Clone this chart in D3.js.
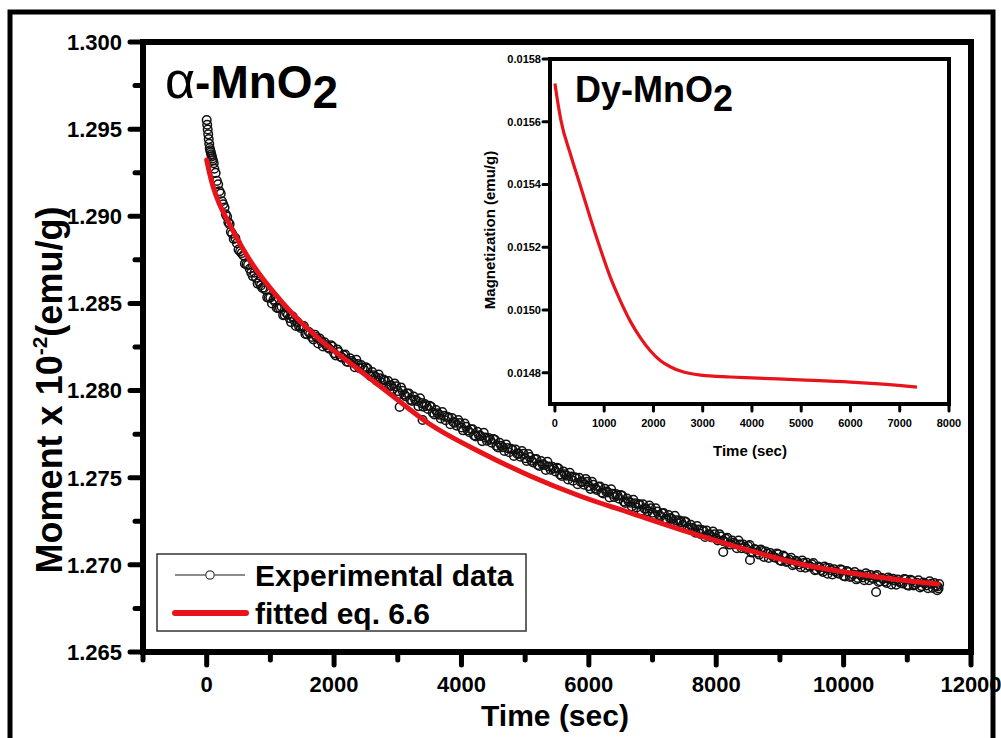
<!DOCTYPE html>
<html>
<head>
<meta charset="utf-8">
<script src="https://cdn.jsdelivr.net/npm/d3@7"></script>
<style>
  html, body { margin: 0; padding: 0; background: #fff; }
  svg text { font-family: "Liberation Sans", Arial, Helvetica, sans-serif; font-weight: bold; fill: #000; }
</style>
</head>
<body>
<svg id="chart" width="1001" height="738"></svg>
<script>
// Magnetic relaxation of alpha-MnO2: measured moment (x 10^-2 emu/g) vs time (s)
const expTime = [
  0, 8, 16, 24, 32, 40, 48, 56, 64, 72, 80, 88, 96,
  110, 120, 140, 160, 180, 200, 220, 240, 260, 280, 300, 320, 340, 360, 380, 400,
  450, 500, 550, 600, 650, 700, 750, 800, 850, 900, 950, 1000,
  1050, 1100, 1150, 1200, 1250, 1300, 1350, 1400, 1450, 1500, 1550, 1600, 1650, 1700, 1750, 1800, 1850, 1900, 1950, 2000,
  2050, 2100, 2150, 2200, 2250, 2300, 2350, 2400, 2450, 2500, 2550, 2600, 2650, 2700, 2750, 2800, 2850, 2900, 2950, 3000, 3030,
  3050, 3100, 3150, 3200, 3250, 3300, 3350, 3390, 3400, 3450, 3500, 3550, 3600, 3650, 3700, 3750, 3800, 3850, 3900, 3950, 4000,
  4050, 4100, 4150, 4200, 4250, 4300, 4350, 4400, 4450, 4500, 4550, 4600, 4650, 4700, 4750, 4800, 4850, 4900, 4950, 5000,
  5050, 5100, 5150, 5200, 5250, 5300, 5350, 5400, 5450, 5500, 5550, 5600, 5650, 5700, 5750, 5800, 5850, 5900, 5950, 6000,
  6050, 6100, 6150, 6200, 6250, 6300, 6350, 6400, 6450, 6500, 6550, 6600, 6650, 6700, 6750, 6800, 6850, 6900, 6950, 7000,
  7050, 7100, 7150, 7200, 7250, 7300, 7350, 7400, 7450, 7500, 7550, 7600, 7650, 7700, 7750, 7800, 7850, 7900, 7950, 8000,
  8050, 8100, 8110, 8150, 8200, 8250, 8300, 8350, 8400, 8450, 8500, 8530, 8550, 8600, 8650, 8700, 8750, 8800, 8850, 8900, 8950, 9000,
  9050, 9100, 9150, 9200, 9250, 9300, 9350, 9400, 9450, 9500, 9550, 9600, 9650, 9700, 9750, 9800, 9850, 9900, 9950, 10000,
  10050, 10100, 10150, 10200, 10250, 10300, 10350, 10400, 10450, 10500, 10510, 10550, 10600, 10650, 10700, 10750, 10800, 10850, 10900, 10950, 11000,
  11050, 11100, 11150, 11200, 11250, 11300, 11350, 11400, 11450, 11470, 11490, 11500,
  425, 475, 525, 575, 625, 675, 725, 775, 825, 875, 925, 975,
  1025, 1075, 1125, 1175, 1225, 1275, 1325, 1375, 1425, 1475, 1525, 1575, 1625, 1675, 1725, 1775, 1825, 1875, 1925, 1975,
  2025, 2075, 2125, 2175, 2225, 2275, 2325, 2375, 2425, 2475, 2525, 2575, 2625, 2675, 2725, 2775, 2825, 2875, 2925, 2975,
  3025, 3075, 3125, 3175, 3225, 3275, 3325, 3375, 3425, 3475, 3525, 3575, 3625, 3675, 3725, 3775, 3825, 3875, 3925, 3975,
  4025, 4075, 4125, 4175, 4225, 4275, 4325, 4375, 4425, 4475, 4525, 4575, 4625, 4675, 4725, 4775, 4825, 4875, 4925, 4975,
  5025, 5075, 5125, 5175, 5225, 5275, 5325, 5375, 5425, 5475, 5525, 5575, 5625, 5675, 5725, 5775, 5825, 5875, 5925, 5975,
  6025, 6075, 6125, 6175, 6225, 6275, 6325, 6375, 6425, 6475, 6525, 6575, 6625, 6675, 6725, 6775, 6825, 6875, 6925, 6975,
  7025, 7075, 7125, 7175, 7225, 7275, 7325, 7375, 7425, 7475, 7525, 7575, 7625, 7675, 7725, 7775, 7825, 7875, 7925, 7975,
  8025, 8075, 8125, 8175, 8225, 8275, 8325, 8375, 8425, 8475, 8525, 8575, 8625, 8675, 8725, 8775, 8825, 8875, 8925, 8975,
  9025, 9075, 9125, 9175, 9225, 9275, 9325, 9375, 9425, 9475, 9525, 9575, 9625, 9675, 9725, 9775, 9825, 9875, 9925, 9975,
  10025, 10075, 10125, 10175, 10225, 10275, 10325, 10375, 10425, 10475, 10525, 10575, 10625, 10675, 10725, 10775, 10825, 10875, 10925, 10975,
  11025, 11075, 11125, 11175, 11225, 11275, 11325, 11375, 11425, 11475
];
const expMoment = [
  1.29552, 1.29525, 1.29498, 1.29470, 1.29443, 1.29416, 1.29391, 1.29379, 1.29367, 1.29356, 1.29344, 1.29332, 1.29321,
  1.29305, 1.29273, 1.29249, 1.29203, 1.29184, 1.29144, 1.29130, 1.29086, 1.29069, 1.29050, 1.29011, 1.28999, 1.28966, 1.28955, 1.28911, 1.28900,
  1.28875, 1.28809, 1.28789, 1.28728, 1.28721, 1.28676, 1.28676, 1.28614, 1.28603, 1.28590, 1.28535, 1.28534,
  1.28522, 1.28475, 1.28475, 1.28433, 1.28447, 1.28416, 1.28425, 1.28371, 1.28369, 1.28367, 1.28325, 1.28337, 1.28308, 1.28320, 1.28270, 1.28282, 1.28277, 1.28248, 1.28260, 1.28215,
  1.28236, 1.28195, 1.28202, 1.28166, 1.28185, 1.28160, 1.28176, 1.28128, 1.28132, 1.28133, 1.28092, 1.28106, 1.28079, 1.28092, 1.28044, 1.28058, 1.28055, 1.28027, 1.28041, 1.27997, 1.27906,
  1.28018, 1.27977, 1.27983, 1.27947, 1.27966, 1.27941, 1.27956, 1.27831, 1.27908, 1.27912, 1.27913, 1.27873, 1.27888, 1.27862, 1.27877, 1.27830, 1.27845, 1.27843, 1.27816, 1.27831, 1.27788,
  1.27811, 1.27771, 1.27778, 1.27743, 1.27763, 1.27739, 1.27757, 1.27712, 1.27718, 1.27722, 1.27683, 1.27700, 1.27675, 1.27691, 1.27646, 1.27662, 1.27662, 1.27637, 1.27653, 1.27612,
  1.27636, 1.27597, 1.27606, 1.27573, 1.27595, 1.27573, 1.27591, 1.27546, 1.27553, 1.27557, 1.27519, 1.27536, 1.27512, 1.27528, 1.27483, 1.27500, 1.27500, 1.27475, 1.27493, 1.27452,
  1.27476, 1.27439, 1.27448, 1.27415, 1.27437, 1.27416, 1.27434, 1.27389, 1.27397, 1.27401, 1.27363, 1.27381, 1.27357, 1.27373, 1.27329, 1.27346, 1.27347, 1.27322, 1.27340, 1.27299,
  1.27324, 1.27286, 1.27296, 1.27263, 1.27286, 1.27264, 1.27282, 1.27238, 1.27245, 1.27250, 1.27212, 1.27230, 1.27206, 1.27223, 1.27178, 1.27196, 1.27197, 1.27173, 1.27191, 1.27151,
  1.27176, 1.27139, 1.27074, 1.27149, 1.27117, 1.27140, 1.27120, 1.27139, 1.27095, 1.27103, 1.27108, 1.27028, 1.27071, 1.27091, 1.27070, 1.27088, 1.27046, 1.27065, 1.27068, 1.27045, 1.27065, 1.27026,
  1.27053, 1.27017, 1.27029, 1.26998, 1.27023, 1.27003, 1.27025, 1.26984, 1.26995, 1.27003, 1.26969, 1.26990, 1.26970, 1.26990, 1.26949, 1.26970, 1.26974, 1.26953, 1.26974, 1.26937,
  1.26965, 1.26931, 1.26945, 1.26917, 1.26945, 1.26928, 1.26952, 1.26912, 1.26925, 1.26934, 1.26844, 1.26902, 1.26924, 1.26905, 1.26927, 1.26887, 1.26910, 1.26915, 1.26896, 1.26919, 1.26884,
  1.26914, 1.26882, 1.26897, 1.26870, 1.26898, 1.26882, 1.26906, 1.26867, 1.26880, 1.26855, 1.26865, 1.26890,
  1.28870, 1.28846, 1.28799, 1.28776, 1.28724, 1.28699, 1.28657, 1.28647, 1.28624, 1.28589, 1.28577, 1.28533,
  1.28500, 1.28510, 1.28472, 1.28482, 1.28434, 1.28435, 1.28393, 1.28404, 1.28393, 1.28359, 1.28370, 1.28324, 1.28328, 1.28294, 1.28307, 1.28298, 1.28253, 1.28261, 1.28240, 1.28252,
  1.28202, 1.28221, 1.28189, 1.28206, 1.28164, 1.28170, 1.28134, 1.28152, 1.28147, 1.28118, 1.28127, 1.28082, 1.28088, 1.28056, 1.28070, 1.28063, 1.28020, 1.28030, 1.28010, 1.28024,
  1.27980, 1.27999, 1.27967, 1.27983, 1.27941, 1.27947, 1.27911, 1.27928, 1.27923, 1.27894, 1.27907, 1.27863, 1.27870, 1.27840, 1.27855, 1.27849, 1.27807, 1.27818, 1.27799, 1.27814,
  1.27772, 1.27792, 1.27761, 1.27778, 1.27737, 1.27744, 1.27710, 1.27730, 1.27728, 1.27701, 1.27717, 1.27674, 1.27683, 1.27653, 1.27670, 1.27666, 1.27625, 1.27638, 1.27621, 1.27637,
  1.27596, 1.27618, 1.27588, 1.27607, 1.27568, 1.27577, 1.27544, 1.27564, 1.27562, 1.27536, 1.27552, 1.27510, 1.27519, 1.27490, 1.27507, 1.27503, 1.27463, 1.27476, 1.27460, 1.27477,
  1.27436, 1.27459, 1.27430, 1.27449, 1.27410, 1.27420, 1.27387, 1.27407, 1.27406, 1.27380, 1.27396, 1.27355, 1.27364, 1.27335, 1.27353, 1.27349, 1.27310, 1.27323, 1.27307, 1.27324,
  1.27284, 1.27306, 1.27278, 1.27297, 1.27259, 1.27268, 1.27235, 1.27256, 1.27254, 1.27229, 1.27245, 1.27204, 1.27213, 1.27185, 1.27202, 1.27199, 1.27160, 1.27174, 1.27158, 1.27176,
  1.27140, 1.27163, 1.27135, 1.27155, 1.27117, 1.27127, 1.27096, 1.27117, 1.27116, 1.27091, 1.27114, 1.27074, 1.27086, 1.27059, 1.27079, 1.27077, 1.27040, 1.27055, 1.27041, 1.27060,
  1.27022, 1.27046, 1.27020, 1.27041, 1.27005, 1.27016, 1.26986, 1.27010, 1.27012, 1.26990, 1.27010, 1.26972, 1.26985, 1.26960, 1.26981, 1.26981, 1.26945, 1.26962, 1.26949, 1.26970,
  1.26933, 1.26959, 1.26935, 1.26959, 1.26925, 1.26940, 1.26912, 1.26938, 1.26941, 1.26921, 1.26942, 1.26906, 1.26920, 1.26896, 1.26919, 1.26920, 1.26886, 1.26904, 1.26893, 1.26916,
  1.26881, 1.26909, 1.26886, 1.26911, 1.26878, 1.26893, 1.26866, 1.26892, 1.26896, 1.26876
];

// Fitted curve (eq. 6.6)
const fitTime = [0, 50, 100, 200, 300, 700, 1200, 1730, 2250, 2880, 3500, 4300, 5080, 5860, 6650, 7750, 8540, 9320, 10110, 10890, 11480];
const fitMoment = [1.29323, 1.29240, 1.29170, 1.29070, 1.28995, 1.28735, 1.28500, 1.28307, 1.28158, 1.27980, 1.27808, 1.27646, 1.27510, 1.27395, 1.27298, 1.27166, 1.27080, 1.27005, 1.26953, 1.26913, 1.26890];

// Inset: Dy-MnO2 magnetization (emu/g) vs time (s)
const insetTime = [0, 30, 120, 320, 530, 730, 930, 1130, 1340, 1540, 1740, 1940, 2150, 2350, 2550, 2960, 3560, 4000, 4980, 6000, 6500, 7350];
const insetMagnetization = [0.015722, 0.015690, 0.015606, 0.015494, 0.015389, 0.015287, 0.015191, 0.015102, 0.015025, 0.014961, 0.014910, 0.014869, 0.014837, 0.014818, 0.014805, 0.014792, 0.014786, 0.014783, 0.014777, 0.014770, 0.014765, 0.014754];

// Tick values
const mainXMajor = [0, 2000, 4000, 6000, 8000, 10000, 12000];
const mainXMinor = [-1000, 1000, 3000, 5000, 7000, 9000, 11000];
const mainYMajor = [1.265, 1.270, 1.275, 1.280, 1.285, 1.290, 1.295, 1.300];
const mainYMinor = [1.2675, 1.2725, 1.2775, 1.2825, 1.2875, 1.2925, 1.2975];
const insetXTicks = [0, 1000, 2000, 3000, 4000, 5000, 6000, 7000, 8000];
const insetYTicks = [0.0148, 0.0150, 0.0152, 0.0154, 0.0156, 0.0158];

const legendLabels = ["Experimental data", "fitted eq. 6.6"];

const RED = "#e8141b";

const svg = d3.select("#chart");
svg.append("rect").attr("width", 1001).attr("height", 738).attr("fill", "#fff");

// Outer figure border
svg.append("rect")
  .attr("x", 10).attr("y", 12).attr("width", 983).attr("height", 742)
  .attr("fill", "none").attr("stroke", "#000").attr("stroke-width", 5);

function bottomLabels(scale, values, yBase, fs, fmt) {
  svg.append("g").selectAll("text").data(values).join("text")
    .attr("x", d => scale(d)).attr("y", yBase)
    .attr("text-anchor", "middle").attr("font-size", fs).text(fmt);
}
function leftLabels(scale, values, xRight, fs, fmt) {
  svg.append("g").selectAll("text").data(values).join("text")
    .attr("x", xRight).attr("y", d => scale(d)).attr("dy", "0.36em")
    .attr("text-anchor", "end").attr("font-size", fs).text(fmt);
}
// Outward tick marks collected into one path string
function tickPath(scale, values, orient, base, len) {
  return values.map(v => {
    const p = scale(v);
    return orient === "bottom" ? `M${p},${base}V${base + len}` : `M${base},${p}H${base - len}`;
  }).join("");
}

// ---------- main plot ----------
const P = { left: 143, top: 42, right: 971, bottom: 652 };
const x = d3.scaleLinear().domain([-1000, 12000]).range([P.left, P.right]);
const y = d3.scaleLinear().domain([1.265, 1.300]).range([P.bottom, P.top]);

bottomLabels(x, mainXMajor, 692, 22, d3.format("d"));
leftLabels(y, mainYMajor, 122, 22, d3.format(".3f"));

// Experimental points: open circles, overlapping into a dense ribbon
svg.append("g").selectAll("circle")
  .data(expTime.map((t, i) => [t, expMoment[i]]))
  .join("circle")
  .attr("cx", d => x(d[0])).attr("cy", d => y(d[1])).attr("r", 4.3)
  .attr("fill", "none").attr("stroke", "#111").attr("stroke-width", 1.5);

// Fitted curve
svg.append("path")
  .datum(fitTime.map((t, i) => [t, fitMoment[i]]))
  .attr("fill", "none").attr("stroke", RED).attr("stroke-width", 5)
  .attr("stroke-linecap", "round")
  .attr("d", d3.line().x(d => x(d[0])).y(d => y(d[1])).curve(d3.curveMonotoneX));

// Plot frame
svg.append("rect")
  .attr("x", P.left).attr("y", P.top).attr("width", P.right - P.left).attr("height", P.bottom - P.top)
  .attr("fill", "none").attr("stroke", "#000").attr("stroke-width", 6);

// Axis titles
svg.append("text").attr("x", 555).attr("y", 726).attr("text-anchor", "middle")
  .attr("font-size", 30).text("Time (sec)");

const yt = svg.append("text").attr("transform", "translate(62,390) rotate(-90)")
  .attr("text-anchor", "middle").attr("font-size", 36);
yt.append("tspan").text("Moment x 10");
yt.append("tspan").attr("font-size", 21).attr("dy", -15).text("-2");
yt.append("tspan").attr("dy", 15).text("(emu/g)");

// Panel title
const t1 = svg.append("text").attr("x", 165).attr("y", 98).attr("font-size", 46);
t1.append("tspan").attr("font-weight", "normal").attr("font-size", 52).text("α");
t1.append("tspan").text("-MnO");
t1.append("tspan").attr("dy", 10).text("2");

// Legend
const L = svg.append("g");
L.append("rect").attr("x", 157).attr("y", 554).attr("width", 369).attr("height", 77)
  .attr("fill", "#fff").attr("stroke", "#333").attr("stroke-width", 1.5);
L.append("line").attr("x1", 175).attr("x2", 245).attr("y1", 575).attr("y2", 575)
  .attr("stroke", "#666").attr("stroke-width", 1.5);
L.append("circle").attr("cx", 210).attr("cy", 575).attr("r", 4.2)
  .attr("fill", "#fff").attr("stroke", "#444").attr("stroke-width", 1.2);
L.append("line").attr("x1", 175).attr("x2", 246).attr("y1", 613).attr("y2", 613)
  .attr("stroke", RED).attr("stroke-width", 6).attr("stroke-linecap", "round");
L.selectAll("text.lbl").data(legendLabels).join("text").attr("class", "lbl")
  .attr("x", 255).attr("y", (d, i) => 586 + i * 38).attr("font-size", 30).text(d => d);

// ---------- inset ----------
const I = { left: 550, top: 59, right: 949, bottom: 404 };
const xi = d3.scaleLinear().domain([-100, 8000]).range([I.left, I.right]);
const yi = d3.scaleLinear().domain([0.0147, 0.0158]).range([I.bottom, I.top]);

svg.append("rect")
  .attr("x", I.left).attr("y", I.top).attr("width", I.right - I.left).attr("height", I.bottom - I.top)
  .attr("fill", "#fff");

bottomLabels(xi, insetXTicks, 427, 11, d3.format("d"));
leftLabels(yi, insetYTicks, 541, 11, d3.format(".4f"));

svg.append("path")
  .datum(insetTime.map((t, i) => [t, insetMagnetization[i]]))
  .attr("fill", "none").attr("stroke", RED).attr("stroke-width", 3.2)
  .attr("stroke-linejoin", "round")
  .attr("d", d3.line().x(d => xi(d[0])).y(d => yi(d[1])).curve(d3.curveMonotoneX));

svg.append("rect")
  .attr("x", I.left).attr("y", I.top).attr("width", I.right - I.left).attr("height", I.bottom - I.top)
  .attr("fill", "none").attr("stroke", "#000").attr("stroke-width", 4);

svg.append("text").attr("x", 750).attr("y", 456).attr("text-anchor", "middle")
  .attr("font-size", 15).text("Time (sec)");
svg.append("text").attr("transform", "translate(495,230) rotate(-90)")
  .attr("text-anchor", "middle").attr("font-size", 15).text("Magnetization (emu/g)");

const t2 = svg.append("text").attr("x", 575).attr("y", 102).attr("font-size", 36);
t2.append("tspan").text("Dy-MnO");
t2.append("tspan").attr("dy", 9).text("2");

// Tick marks, drawn last so nothing paints over them
const tickLayer = svg.append("g").attr("fill", "none").attr("stroke", "#000").attr("stroke-linecap", "round");
tickLayer.append("path").attr("stroke-width", 5)
  .attr("d", tickPath(x, mainXMajor, "bottom", P.bottom + 2, 11) + tickPath(y, mainYMajor, "left", P.left - 2, 11));
tickLayer.append("path").attr("stroke-width", 5)
  .attr("d", tickPath(x, mainXMinor, "bottom", P.bottom + 2, 6) + tickPath(y, mainYMinor, "left", P.left - 2, 6));
tickLayer.append("path").attr("stroke-width", 3)
  .attr("d", tickPath(xi, insetXTicks, "bottom", I.bottom + 1, 6) + tickPath(yi, insetYTicks, "left", I.left - 1, 6));
</script>
</body>
</html>
